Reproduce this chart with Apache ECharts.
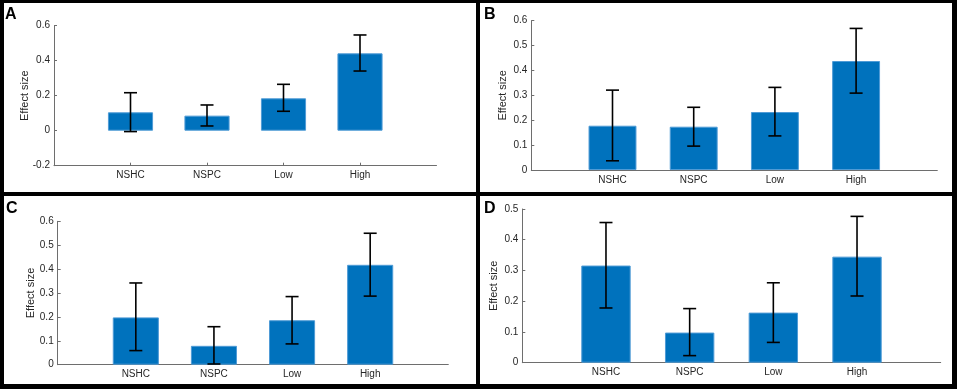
<!DOCTYPE html>
<html>
<head>
<meta charset="utf-8">
<style>
  html, body { margin: 0; padding: 0; background: #000; }
</style>
</head>
<body>
<div id="main" style="width: 957px;height:389px;"></div>
<script src="https://cdn.jsdelivr.net/npm/echarts@6/dist/echarts.min.js"></script>
<script type="text/javascript">
    // categories shared by all four panels
    var categories = ['NSHC', 'NSPC', 'Low', 'High'];
    var panelLetters = ['A', 'B', 'C', 'D'];

    // bar heights + error bar ends
    var meanA = [0.105, 0.086, 0.185, 0.442];
    var lowA  = [-0.005, 0.027, 0.111, 0.341];
    var highA = [0.217, 0.147, 0.265, 0.547];

    var meanB = [0.178, 0.174, 0.233, 0.438];
    var lowB  = [0.037, 0.096, 0.137, 0.309];
    var highB = [0.321, 0.252, 0.332, 0.569];

    var meanC = [0.198, 0.079, 0.186, 0.418];
    var lowC  = [0.059, 0.003, 0.087, 0.287];
    var highC = [0.342, 0.159, 0.285, 0.550];

    var meanD = [0.316, 0.098, 0.163, 0.345];
    var lowD  = [0.178, 0.023, 0.066, 0.217];
    var highD = [0.456, 0.176, 0.260, 0.476];

    // y axis ranges  [min, max, interval]
    var yRangeA = [-0.2, 0.6, 0.2];
    var yRangeB = [0, 0.6, 0.1];
    var yRangeC = [0, 0.6, 0.1];
    var yRangeD = [0, 0.5, 0.1];

    var yName = 'Effect size';

    var panels = [
        { mean: meanA, low: lowA, high: highA, y: yRangeA },
        { mean: meanB, low: lowB, high: highB, y: yRangeB },
        { mean: meanC, low: lowC, high: highC, y: yRangeC },
        { mean: meanD, low: lowD, high: highD, y: yRangeD }
    ];

    // layout (pixels)
    var grids = [
        { left: 54, top: 25.7, width: 382.5, height: 140 },
        { left: 531.3, top: 20.7, width: 406, height: 149.3 },
        { left: 57.7, top: 221.3, width: 390.6, height: 143.4 },
        { left: 522.3, top: 209, width: 418.4, height: 153.7 }
    ];
    var frames = [
        { x: 4, y: 3, w: 472, h: 189 },
        { x: 480, y: 3, w: 472, h: 189 },
        { x: 4, y: 196, w: 472, h: 188 },
        { x: 480, y: 196, w: 472, h: 188 }
    ];
    var letterPos = [[5, 7], [484, 7], [6, 201], [484, 201]];
    var nameGaps = [24, 23, 21, 23];

    var font = '"Liberation Sans", Arial, Helvetica, sans-serif';
    var axisColor = '#6e6e6e';
    var textColor = '#262626';

    // pad with empty slots so the axis runs 0..5 like the original
    var xData = [''].concat(categories).concat(['']);

    var xAxes = [], yAxes = [], series = [], graphics = [];

    frames.forEach(function (f) {
        graphics.push({
            type: 'rect', z: -10,
            shape: { x: f.x, y: f.y, width: f.w, height: f.h },
            style: { fill: '#fff' }
        });
    });
    panelLetters.forEach(function (l, i) {
        graphics.push({
            type: 'text', left: letterPos[i][0], top: letterPos[i][1],
            style: { text: l, font: 'bold 16px ' + font, fill: '#000' }
        });
    });

    panels.forEach(function (p, i) {
        xAxes.push({
            gridIndex: i,
            type: 'category',
            data: xData,
            boundaryGap: false,
            axisLine: { onZero: false, lineStyle: { color: axisColor, width: 1 } },
            axisTick: {
                inside: true, length: 3,
                interval: function (idx, v) { return v !== ''; },
                lineStyle: { color: axisColor }
            },
            axisLabel: { interval: 0, color: textColor, fontSize: 10, fontFamily: font, margin: 5 },
            splitLine: { show: false }
        });
        yAxes.push({
            gridIndex: i,
            type: 'value',
            min: p.y[0], max: p.y[1], interval: p.y[2],
            name: yName,
            nameLocation: 'middle',
            nameGap: nameGaps[i],
            nameMoveOverlap: false,
            nameTextStyle: { color: textColor, fontSize: 11, fontFamily: font },
            axisLine: { show: true, onZero: false, lineStyle: { color: axisColor, width: 1 } },
            axisTick: { show: true, inside: true, length: 3, lineStyle: { color: axisColor } },
            axisLabel: { color: textColor, fontSize: 10, fontFamily: font, margin: 4 },
            splitLine: { show: false }
        });

        series.push({
            type: 'bar',
            xAxisIndex: i, yAxisIndex: i,
            barWidth: '59%',
            itemStyle: { color: '#0072BD', borderColor: '#4f9bd6', borderWidth: 1 },
            data: p.mean.map(function (v, k) { return [k + 1, v]; })
        });
        series.push({
            type: 'custom',
            xAxisIndex: i, yAxisIndex: i,
            encode: { x: 0, y: [1, 2] },
            renderItem: function (params, api) {
                var x = api.value(0);
                var a = api.coord([x, api.value(1)]);
                var b = api.coord([x, api.value(2)]);
                var hw = 6.5;
                var st = { stroke: '#000', lineWidth: 1.6 };
                return {
                    type: 'group',
                    children: [
                        { type: 'line', shape: { x1: a[0], y1: a[1], x2: b[0], y2: b[1] }, style: st },
                        { type: 'line', shape: { x1: a[0] - hw, y1: a[1], x2: a[0] + hw, y2: a[1] }, style: st },
                        { type: 'line', shape: { x1: b[0] - hw, y1: b[1], x2: b[0] + hw, y2: b[1] }, style: st }
                    ]
                };
            },
            z: 5,
            data: p.low.map(function (v, k) { return [k + 1, v, p.high[k]]; })
        });
    });

    var myChart = echarts.init(document.getElementById('main'));
    var option = {
        backgroundColor: '#000',
        animation: false,
        graphic: graphics,
        grid: grids,
        xAxis: xAxes,
        yAxis: yAxes,
        series: series
    };
    myChart.setOption(option);
</script>
</body>
</html>
